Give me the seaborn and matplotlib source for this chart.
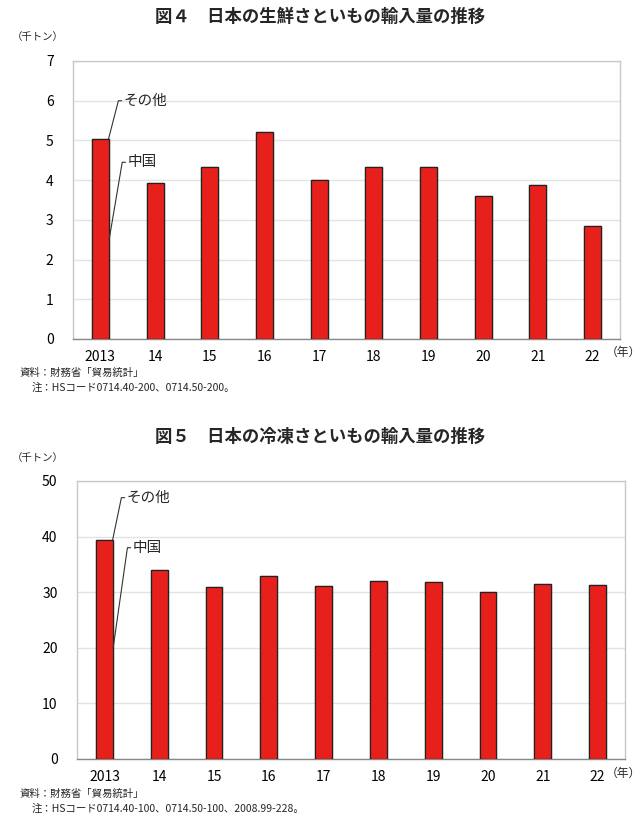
import matplotlib
matplotlib.use("Agg")
import matplotlib.pyplot as plt
import seaborn as sns
import pandas as pd

years = ["2013", "14", "15", "16", "17", "18", "19", "20", "21", "22"]
fresh_china = [5.03, 3.92, 4.32, 5.22, 4.00, 4.32, 4.33, 3.60, 3.88, 2.85]
fresh_other = [0.01, 0.0, 0.0, 0.0, 0.0, 0.0, 0.0, 0.0, 0.0, 0.0]
frozen_china = [39.35, 34.0, 31.0, 33.0, 31.1, 32.0, 31.8, 30.1, 31.5, 31.3]
frozen_other = [0.05, 0.0, 0.0, 0.0, 0.0, 0.0, 0.0, 0.0, 0.0, 0.0]

sns.set_theme(style="white")
plt.rcParams['font.family'] = ['Noto Sans CJK JP', 'DejaVu Sans']

W, H = 640, 817
fig = plt.figure(figsize=(W / 100, H / 100), dpi=100)

RED = "#e8201c"

def px_axes(x0, y0, x1, y1):
    return fig.add_axes([x0 / W, 1 - y1 / H, (x1 - x0) / W, (y1 - y0) / H])

def panel(ax, china, other, ymax, step, title, title_y, unit_y, notes, note_y, labels):
    total = [c + o for c, o in zip(china, other)]
    df_c = pd.DataFrame({"year": years, "v": china})
    df_t = pd.DataFrame({"year": years, "v": total})
    sns.barplot(data=df_c, x="year", y="v", color=RED, saturation=1, width=0.31,
                edgecolor="#222222", linewidth=0.9, ax=ax, zorder=3)
    sns.barplot(data=df_t, x="year", y="v", color=RED, saturation=1, width=0.31,
                edgecolor="#222222", linewidth=0.9, ax=ax, zorder=3)
    ax.set_ylim(0, ymax)
    ax.set_xlim(-0.5, len(years) - 0.5)
    ax.set_yticks(range(0, ymax + 1, step))
    ax.yaxis.grid(True, color="#e3e3e3", linewidth=1.0, zorder=0)
    ax.set_axisbelow(True)
    for s in ax.spines.values():
        s.set_color("#c8c8c8")
        s.set_linewidth(1.0)
    ax.spines["bottom"].set_color("#888888")
    ax.set_xlabel("")
    ax.set_ylabel("")
    ax.tick_params(axis="both", length=0, labelsize=10, colors="black")
    ax.tick_params(axis="y", pad=14)
    ax.tick_params(axis="x", pad=8)
    fig.text(320 / W, 1 - title_y / H, title, ha="center", va="center",
             fontsize=12.5, fontweight="bold")
    fig.text(12 / W, 1 - unit_y / H, "（千トン）", ha="left", va="center", fontsize=7.5)
    fig.text(606 / W, 1 - (note_y - 21) / H, "（年）", ha="left", va="center", fontsize=8.5)
    fig.text(20 / W, 1 - note_y / H, notes[0], ha="left", va="center", fontsize=7.5)
    fig.text(32 / W, 1 - (note_y + 15) / H, notes[1], ha="left", va="center", fontsize=7.5)
    for (sx, sy), (ex, ey), txt in labels:
        ax.plot([sx, ex, ex + 0.06], [sy, ey, ey], color="#333333", lw=0.8,
                zorder=5, clip_on=False)
        ax.text(ex + 0.1, ey, txt, fontsize=10.5, ha="left", va="center", zorder=5)

ax1 = px_axes(73, 61, 620, 339)
panel(ax1, fresh_china, fresh_other, 7, 1,
      "図４　日本の生鮮さといもの輸入量の推移", 17, 37,
      ["資料：財務省「貿易統計」", "注：HSコード0714.40-200、0714.50-200。"], 373,
      [((0.15, 5.04), (0.33, 6.0), "その他"), ((0.16, 2.5), (0.4, 4.45), "中国")])

ax2 = px_axes(77, 481, 625, 759)
panel(ax2, frozen_china, frozen_other, 50, 10,
      "図５　日本の冷凍さといもの輸入量の推移", 437, 458,
      ["資料：財務省「貿易統計」", "注：HSコード0714.40-100、0714.50-100、2008.99-228。"], 794,
      [((0.15, 39.4), (0.31, 47.0), "その他"), ((0.16, 20.0), (0.42, 38.0), "中国")])

fig.savefig("out.png", dpi=100)
